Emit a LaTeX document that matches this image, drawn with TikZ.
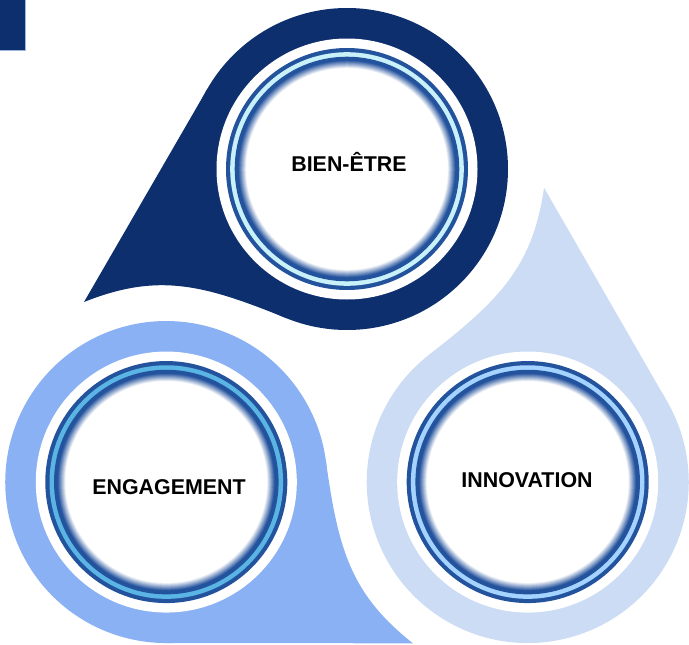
\documentclass[tikz,border=0pt]{standalone}
\usepackage{fontspec}
\setmainfont{Liberation Sans}
\definecolor{navy}{HTML}{0E2F6D}
\definecolor{engblue}{HTML}{8AB1F4}
\definecolor{innblue}{HTML}{CCDCF5}
\definecolor{ringdark}{HTML}{24539E}
\definecolor{ringtop}{HTML}{C9F1F9}
\definecolor{ringeng}{HTML}{5AB4E4}
\definecolor{ringinn}{HTML}{A5D3FF}
\definecolor{edgeline}{HTML}{9DB5E0}
\newcommand\dropshape[1]{%
  \fill[#1] (347,169) circle[radius=161];
  \fill[#1] (84,302) -- (207.6,88.5) -- (347,169) -- (286.7,318.3)
     .. controls (203.3,284.5) and (158.4,272.4) .. (84,302) -- cycle;
}
\newcommand\ringset[2]{%
  \fill[white] (#1) circle[radius=130.5];
  \fill[ringdark] (#1) circle[radius=121];
  \fill[#2] (#1) circle[radius=116.8];
  \fill[ringdark] (#1) circle[radius=112.3];
  \foreach \k in {0,...,16}{%
    \pgfmathsetmacro\rr{108.8-0.5*\k}%
    \pgfmathtruncatemacro\pc{100-6.25*\k}%
    \fill[ringdark!\pc!white] (#1) circle[radius=\rr];
  }%
}
\tikzset{lbl/.style={anchor=base, inner sep=0pt, text=black,
  font=\bfseries\fontsize{21.4}{24}\selectfont}}
\begin{document}
\begin{tikzpicture}[x=1pt,y=-1pt]
\useasboundingbox (0,0) rectangle (689,645);
\coordinate (G) at (347,377.7);
\coordinate (ct) at (347,169);
\coordinate (ce) at (166.3,482.05);
\coordinate (ci) at (527.7,482.05);
% corner mark
\fill[navy, draw=edgeline, line width=0.6pt] (-1,-1) rectangle (25,50);
% drops
\dropshape{navy}
\begin{scope}[rotate around={-120:(G)}]
  \dropshape{innblue}
\end{scope}
\begin{scope}[rotate around={120:(G)}]
  \dropshape{engblue}
\end{scope}
% rings
\ringset{ct}{ringtop}
\ringset{ce}{ringeng}
\ringset{ci}{ringinn}
% labels
\node[lbl] (bien) at (349,171) {BIEN-ÊTRE};
\node[lbl] (eng) at (169,494) {ENGAGEMENT};
\node[lbl] (inn) at (527,487) {INNOVATION};
\end{tikzpicture}
\end{document}
